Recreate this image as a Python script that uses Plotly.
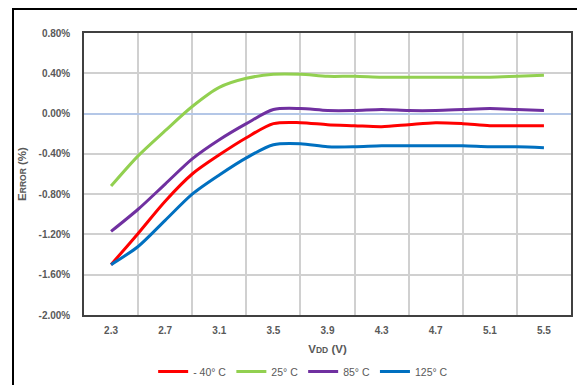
import plotly.graph_objects as go

vdd = [2.3, 2.5, 2.7, 2.9, 3.1, 3.3, 3.5, 3.7, 3.9, 4.1, 4.3, 4.5, 4.7, 4.9, 5.1, 5.3, 5.5]

err_m40 = [-1.50, -1.19, -0.87, -0.60, -0.41, -0.24, -0.10, -0.09, -0.11, -0.12, -0.13, -0.11, -0.09, -0.10, -0.12, -0.12, -0.12]
err_25 = [-0.72, -0.42, -0.17, 0.07, 0.26, 0.35, 0.39, 0.39, 0.37, 0.37, 0.36, 0.36, 0.36, 0.36, 0.36, 0.37, 0.38]
err_85 = [-1.17, -0.95, -0.70, -0.45, -0.26, -0.10, 0.04, 0.05, 0.03, 0.03, 0.04, 0.03, 0.03, 0.04, 0.05, 0.04, 0.03]
err_125 = [-1.50, -1.32, -1.06, -0.80, -0.61, -0.44, -0.31, -0.30, -0.33, -0.33, -0.32, -0.32, -0.32, -0.32, -0.33, -0.33, -0.34]

series_names = ["- 40° C", "25° C", "85° C", "125° C"]
series_colors = ["#FF0000", "#92D050", "#7030A0", "#0070C0"]

x_ticks = [2.3, 2.7, 3.1, 3.5, 3.9, 4.3, 4.7, 5.1, 5.5]
y_ticks = [-2.0, -1.6, -1.2, -0.8, -0.4, 0.0, 0.4, 0.8]

# page body adds 8px margin, so figure is sized to the visible area
W, H = 577, 377
L, R, T, B = 76, 14, 25, 70

fig = go.Figure()
for name, ys, col in zip(series_names, [err_m40, err_25, err_85, err_125], series_colors):
    fig.add_trace(go.Scatter(x=vdd, y=ys, name=name, mode="lines",
                             line=dict(color=col, width=3, shape="spline", smoothing=0.8)))

grey = "#595959"
fig.update_layout(
    width=W, height=H,
    margin=dict(l=L, r=R, t=T, b=B, autoexpand=False),
    paper_bgcolor="white", plot_bgcolor="white",
    font=dict(family="Liberation Sans, Arial", color=grey, size=10),
    showlegend=True,
    legend=dict(orientation="h", x=0.45, xanchor="center", y=-0.2, yanchor="middle",
                font=dict(size=10.5, color=grey), tracegroupgap=0),
    xaxis=dict(range=[2.1, 5.7], tickvals=x_ticks, ticktext=[f"<b>{v:.1f}</b>" for v in x_ticks],
               showgrid=False, zeroline=False, ticks="", automargin=False, ticklabelstandoff=5,
               tickfont=dict(size=10, color=grey),
               minor=dict(tickvals=[2.5, 2.9, 3.3, 3.7, 4.1, 4.5, 4.9, 5.3],
                          showgrid=True, gridcolor="#D0D0D0", gridwidth=1.5, ticks=""),
               title=dict(text="<b>V<span style='font-size:8.5px'>DD</span> (V)</b>",
                          font=dict(size=11.5, color=grey), standoff=10),
               showline=True, linecolor="#404040", linewidth=1.5, mirror=True),
    yaxis=dict(range=[-2.0, 0.8], tickvals=y_ticks,
               ticktext=[f"<b>{v:.2f}%</b>" for v in y_ticks],
               showgrid=True, gridcolor="#D0D0D0", gridwidth=1.5,
               zeroline=True, zerolinecolor="#B4C7E7", zerolinewidth=1.5,
               ticks="", automargin=False, ticklabelstandoff=10,
               tickfont=dict(size=10, color=grey),
               title=dict(text="<b>E<span style='font-size:8.5px'>RROR</span> (%)</b>",
                          font=dict(size=11.5, color=grey), standoff=10),
               showline=True, linecolor="#404040", linewidth=1.5, mirror=True),
)

pw, ph = W - L - R, H - T - B
def px(x):
    return (x - L) / pw
def py(y):
    return (H - B - y) / ph

# outer chart frame (top and left edges)
fig.add_shape(type="line", xref="paper", yref="paper", x0=px(4), x1=px(W), y0=py(1), y1=py(1),
              line=dict(color="black", width=2))
fig.add_shape(type="line", xref="paper", yref="paper", x0=px(5), x1=px(5), y0=py(0), y1=py(H),
              line=dict(color="black", width=2))

fig.write_html("out.html")
